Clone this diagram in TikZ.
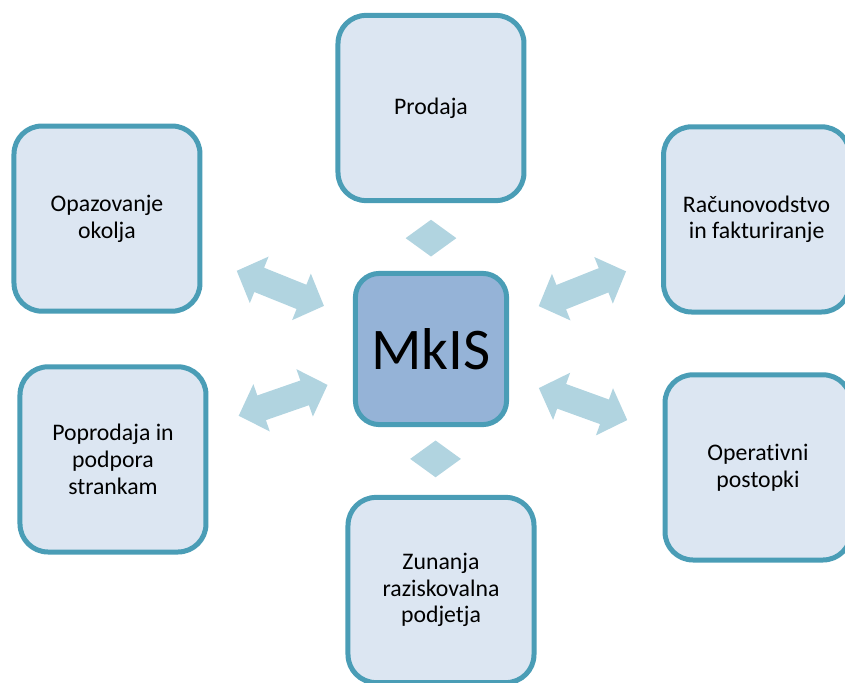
\documentclass[tikz,border=0pt]{standalone}
\usepackage{fontspec}
\setmainfont[Ligatures=NoCommon]{Carlito}
\usepackage{tikz}
\usetikzlibrary{shapes.geometric,shapes.arrows,positioning}
\definecolor{mkborder}{RGB}{74,157,182}
\definecolor{mkfill}{RGB}{220,230,242}
\definecolor{mkhub}{RGB}{149,179,215}
\definecolor{mkarrow}{RGB}{177,212,224}
\tikzstyle{block} = [rectangle, draw=mkborder, fill=mkfill, line width=0.125cm,
    rounded corners=0.7cm, minimum width=4.65cm, minimum height=4.63cm,
    align=center, font=\fontsize{16.9}{19}\selectfont]
\tikzstyle{hub} = [block, fill=mkhub, rounded corners=0.6cm,
    minimum width=3.78cm, minimum height=3.78cm, font=\fontsize{42}{46}\selectfont]
\tikzstyle{dblarrow} = [double arrow, fill=mkarrow, draw=none, inner sep=0pt,
    text height=0.64cm, text depth=0pt, minimum height=2.35cm,
    double arrow head extend=0.3cm, double arrow tip angle=92, anchor=center]
\tikzstyle{link} = [diamond, fill=mkarrow, draw=none, inner sep=0pt,
    minimum width=1.275cm, minimum height=0.925cm, anchor=center]

\begin{document}
\begin{tikzpicture}[node distance = 6.025cm]
    \useasboundingbox (-10.775,-8.325) rectangle (10.35,8.725);
    \clip (-10.775,-8.325) rectangle (10.35,8.725);
    % Place nodes
    \node [hub] (mkis) at (0,0) {MkIS};
    \node [block, above of=mkis] (prodaja) {Prodaja};
    \node [block, below of=mkis, xshift=0.25cm] (zunanja) {Zunanja\\raziskovalna\\podjetja};
    \node [block, left of=mkis, node distance=8.1cm, yshift=3.26cm] (opazovanje) {Opazovanje\\okolja};
    \node [block, right of=mkis, node distance=8.14cm, yshift=3.24cm] (racunovodstvo) {Računovodstvo\\in fakturiranje};
    \node [block, left of=mkis, node distance=7.95cm, yshift=-2.76cm] (poprodaja) {Poprodaja in\\podpora\\strankam};
    \node [block, right of=mkis, node distance=8.175cm, yshift=-2.96cm] (operativni) {Operativni\\postopki};
    % Draw edges
    \path (mkis.center) -- node [link, pos=0.46] {} (prodaja.center);
    \path (mkis.center) -- node [link, pos=0.456] {} (zunanja.center);
    \path (mkis.center) -- node [dblarrow, pos=0.465, sloped] {} (opazovanje.center);
    \path (mkis.center) -- node [dblarrow, pos=0.465, sloped] {} (racunovodstvo.center);
    \path (mkis.center) -- node [dblarrow, pos=0.465, sloped] {} (poprodaja.center);
    \path (mkis.center) -- node [dblarrow, pos=0.465, sloped] {} (operativni.center);
\end{tikzpicture}
\end{document}
